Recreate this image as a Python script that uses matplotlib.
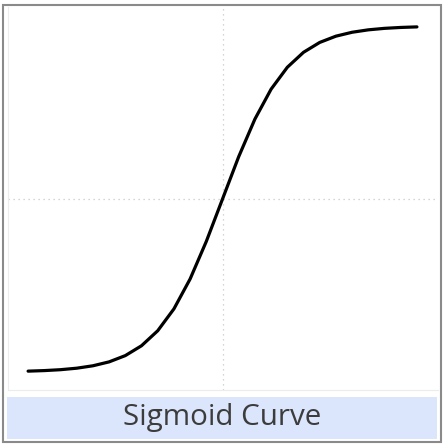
import matplotlib
matplotlib.use("Agg")
import matplotlib.pyplot as plt
from matplotlib.patches import Rectangle

# Data
x_values = [-6.0, -5.5, -5.0, -4.5, -4.0, -3.5, -3.0, -2.5, -2.0, -1.5, -1.0, -0.5,
            0.0, 0.5, 1.0, 1.5, 2.0, 2.5, 3.0, 3.5, 4.0, 4.5, 5.0, 5.5, 6.0]
y_values = [0.0025, 0.0041, 0.0067, 0.0110, 0.0180, 0.0293, 0.0474, 0.0759, 0.1192,
            0.1824, 0.2689, 0.3775, 0.5000, 0.6225, 0.7311, 0.8176, 0.8808, 0.9241,
            0.9526, 0.9707, 0.9820, 0.9890, 0.9933, 0.9959, 0.9975]
title_text = "Sigmoid Curve"
x_zero_line = 0.0
y_mid_line = 0.5

W, H = 443, 445
fig = plt.figure(figsize=(W / 100, H / 100), dpi=100)
fig.patch.set_facecolor("white")

def fx(px):
    return px / W

def fy(py):
    return 1 - py / H

# plot pane
left, right, top, bottom = 8, 438, 7, 390
ax = fig.add_axes([fx(left), fy(bottom), (right - left) / W, (bottom - top) / H])
ax.plot(x_values, y_values, color="black", lw=2.3, solid_joinstyle="round",
        solid_capstyle="round", zorder=3)
ax.axvline(x_zero_line, color="#c8c8c8", lw=0.9, linestyle=(0, (1, 3)), zorder=1)
ax.axhline(y_mid_line, color="#c8c8c8", lw=0.9, linestyle=(0, (1, 3)), zorder=1)
ax.set_xlim(-6.62, 6.65)
ax.set_ylim(-0.052, 1.055)
ax.set_xticks([])
ax.set_yticks([])
for s in ["top", "right"]:
    ax.spines[s].set_visible(False)
for s in ["left", "bottom"]:
    ax.spines[s].set_color("#ececec")
    ax.spines[s].set_linewidth(0.8)

# title bar
fig.patches.append(Rectangle((fx(7), fy(439)), (437 - 7) / W, (439 - 397) / H,
                             transform=fig.transFigure, facecolor="#dbe5fb",
                             edgecolor="none", zorder=0))
fig.text(fx(222.5), fy(418), title_text, ha="center", va="center",
         fontsize=21.3, color="#3c3c3c", family=["Open Sans", "DejaVu Sans"])

# outer border
fig.patches.append(Rectangle((fx(2.5), fy(441.5)), (440.5 - 2.5) / W, (441.5 - 4.5) / H,
                             transform=fig.transFigure, facecolor="none",
                             edgecolor="#8a8a8a", lw=1.5, zorder=5))

fig.savefig("out.png", dpi=100)
